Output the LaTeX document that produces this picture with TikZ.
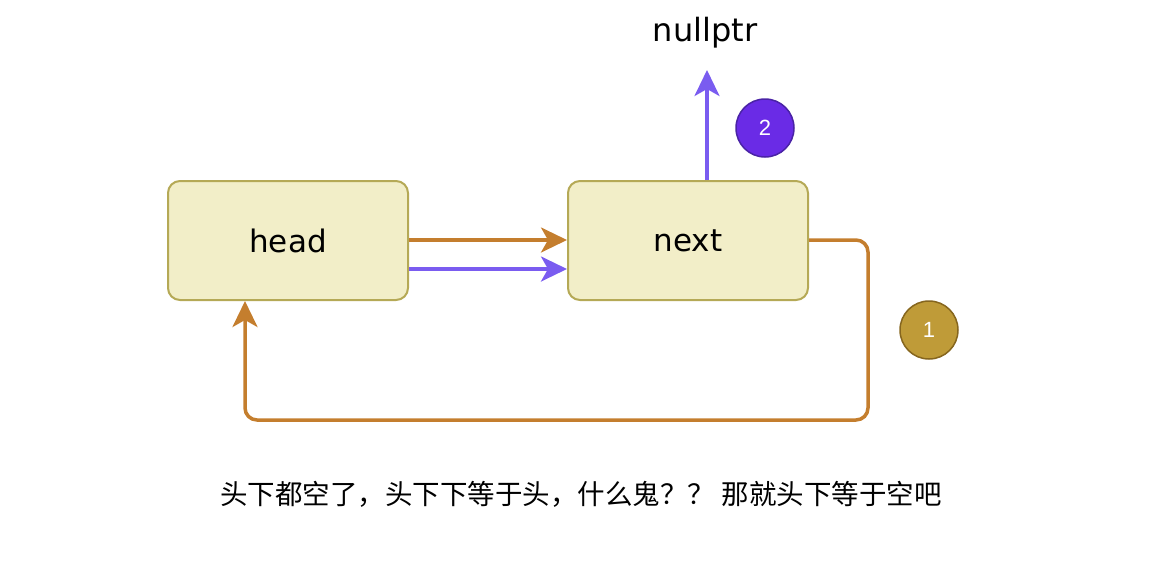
\documentclass[tikz,border=0pt]{standalone}
\usepackage{fontspec}
\setmainfont{DejaVu Sans}
\newfontfamily\cjk{Noto Sans CJK SC}
\newfontfamily\numfont{Liberation Sans}
\usetikzlibrary{arrows.meta}
\definecolor{boxfill}{HTML}{F2EEC8}
\definecolor{boxline}{HTML}{B5A956}
\definecolor{orangeline}{HTML}{C47E2E}
\definecolor{purpleline}{HTML}{7A5CF0}
\definecolor{purplefill}{HTML}{6A2BE6}
\definecolor{purpleedge}{HTML}{4A23A6}
\definecolor{goldfill}{HTML}{BF9B38}
\definecolor{goldedge}{HTML}{86661E}
\tikzset{
  listbox/.style={draw=boxline, fill=boxfill, line width=2pt, rounded corners=12pt,
    minimum width=240pt, minimum height=119pt, inner sep=0pt,
    font=\fontsize{31}{36}\selectfont},
  orangearrow/.style={draw=orangeline, line width=3.5pt, -{Stealth[length=26pt,width=25pt,inset=7pt]}},
  purplearrow/.style={draw=purpleline, line width=3.5pt, -{Stealth[length=26pt,width=25pt,inset=7pt]}},
  badge/.style={circle, line width=1.5pt, minimum size=58pt, inner sep=0pt,
    text=white, font=\numfont\fontsize{22}{26}\selectfont},
}
\begin{document}
\begin{tikzpicture}[x=1pt,y=-1pt]
\useasboundingbox (0,0) rectangle (1176,568);
\node[listbox] (head) at (288,240.5) {head};
\node[listbox] (next) at (688,240.5) {next};
\node[font=\fontsize{32}{36}\selectfont] (null) at (705,33) {nullptr};
\coordinate (nulltip) at (707,70);
\node[badge, fill=purplefill, draw=purpleedge] (b2) at (765,128) {2};
\node[badge, fill=goldfill, draw=goldedge] (b1) at (929,330) {1};

\draw[orangearrow] (head.east |- 0,240) -- (next.west |- 0,240);
\draw[purplearrow] (head.east |- 0,269) -- (next.west |- 0,269);
\draw[purplearrow] (next.north -| 707,0) -- (nulltip);
\draw[orangearrow, rounded corners=12pt] (next.east |- 0,240) -- (868,240) -- (868,420) -- (245,420) -- (head.south -| 245,0);

\node[font=\cjk\fontsize{27.5}{32}\selectfont] (caption) at (581,494) {头下都空了，头下下等于头，什么鬼？？ 那就头下等于空吧};
\end{tikzpicture}
\end{document}
